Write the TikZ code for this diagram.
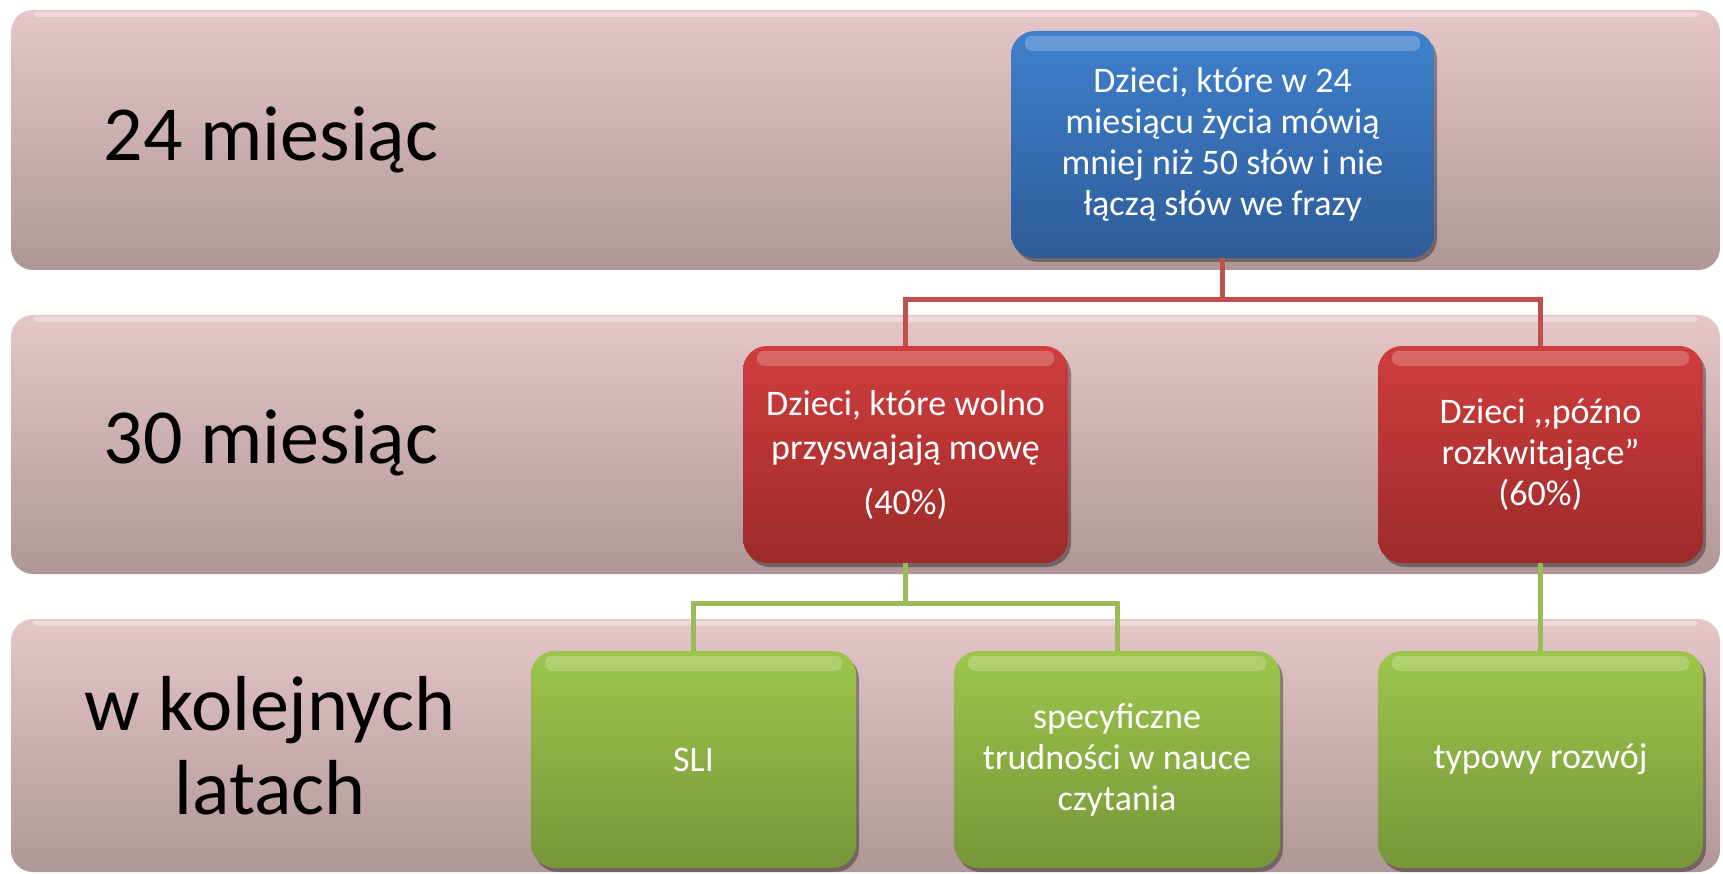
\documentclass[tikz,border=0pt]{standalone}
\usepackage{fontspec}
\setmainfont{Carlito}
\usetikzlibrary{shadows}
\definecolor{bandtop}{HTML}{E6C6C9}
\definecolor{bandbot}{HTML}{B09797}
\definecolor{bluetop}{HTML}{3F80CC}
\definecolor{bluebot}{HTML}{2E5C99}
\definecolor{redtop}{HTML}{CF3D3D}
\definecolor{redbot}{HTML}{9E2A2A}
\definecolor{greentop}{HTML}{9CC64B}
\definecolor{greenbot}{HTML}{769639}
\definecolor{redline}{HTML}{C0504D}
\definecolor{greenline}{HTML}{9BBB59}
\tikzset{
  band/.style={rectangle, rounded corners=22pt, top color=bandtop, bottom color=bandbot, draw=none, inner sep=0pt},
  rowlabel/.style={align=center, font=\fontsize{78}{84}\selectfont, text=black},
  boxbase/.style={rectangle, rounded corners=24pt, draw=none, inner sep=0pt, align=center, text=white,
     font=\fontsize{36}{41}\selectfont,
     drop shadow={shadow xshift=3pt, shadow yshift=-4pt, opacity=0.35, fill=black}},
  bluebox/.style={boxbase, top color=bluetop, bottom color=bluebot},
  redbox/.style={boxbase, top color=redtop, bottom color=redbot},
  greenbox/.style={boxbase, top color=greentop, bottom color=greenbot},
  redconn/.style={draw=redline, line width=5pt},
  greenconn/.style={draw=greenline, line width=5pt},
  gloss/.style={fill=white, opacity=0.22, rounded corners=7pt},
}
\begin{document}
\begin{tikzpicture}[x=1pt,y=-1pt]
\useasboundingbox (0,0) rectangle (1723,874);
% bands
\node[band, minimum width=1709pt, minimum height=260pt] (band1) at (865.5,140) {};
\node[band, minimum width=1709pt, minimum height=259pt] (band2) at (865.5,444.5) {};
\node[band, minimum width=1709pt, minimum height=253pt] (band3) at (865.5,745.5) {};
\foreach \b in {band1,band2,band3}{
  \fill[white, opacity=0.35, rounded corners=4pt] ([xshift=22pt,yshift=-2pt]\b.north west) rectangle ([xshift=-22pt,yshift=-7pt]\b.north east);
}
% row labels
\node[rowlabel] (l1) at (271,140) {24 miesiąc};
\node[rowlabel] (l2) at (271,443) {30 miesiąc};
\node[rowlabel] (l3) at (270,746) {w kolejnych\\latach};
% connectors
\coordinate (rj) at (1222.5,300);
\coordinate (gj) at (905.5,603);
% boxes
\node[bluebox, minimum width=423pt, minimum height=227pt] (blue) at (1222.5,144.5)
  {Dzieci, które w 24\\miesiącu życia mówią\\mniej niż 50 słów i nie\\łączą słów we frazy};
\node[redbox, minimum width=325pt, minimum height=217pt] (red1) at (905.5,454.5)
  {Dzieci, które wolno\\[3pt]przyswajają mowę\\[14pt](40\%)};
\node[redbox, minimum width=325pt, minimum height=217pt] (red2) at (1540.5,454.5)
  {Dzieci ,\kern0pt,późno\\rozkwitające”\\(60\%)};
\node[greenbox, minimum width=325pt, minimum height=217pt] (g1) at (693.5,759.5) {SLI};
\node[greenbox, minimum width=326pt, minimum height=217pt] (g2) at (1117,759.5)
  {specyficzne\\trudności w nauce\\czytania};
\node[greenbox, minimum width=325pt, minimum height=217pt] (g3) at (1540.5,759.5) {typowy rozwój};
\foreach \b in {blue,red1,red2,g1,g2,g3}{
  \fill[gloss] ([xshift=14pt,yshift=-5pt]\b.north west) rectangle ([xshift=-14pt,yshift=-20pt]\b.north east);
}
\draw[redconn] (blue.south) -- (rj);
\draw[redconn] (red1.north) |- (rj) -| (red2.north);
\draw[greenconn] (red1.south) -- (gj);
\draw[greenconn] (g1.north) |- (gj) -| (g2.north);
\draw[greenconn] (red2.south) -- (g3.north);
\end{tikzpicture}
\end{document}
